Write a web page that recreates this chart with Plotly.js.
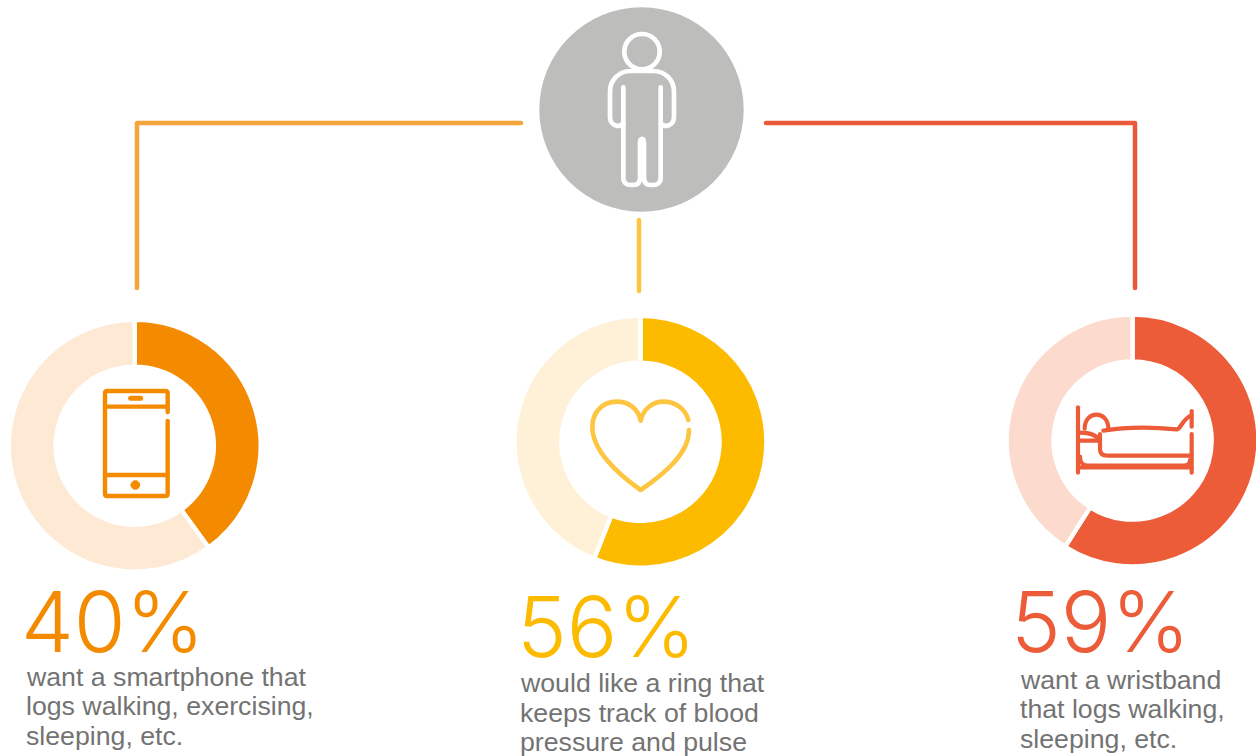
<!DOCTYPE html>
<html>
<head>
<meta charset="utf-8">
<script src="https://cdn.plot.ly/plotly-3.0.1.min.js"></script>
<style>
  html, body { margin: 0; padding: 0; background: #fff; overflow: hidden; }
  #stage { width: 1256px; height: 756px; overflow: hidden; }
  .shapelayer path { stroke-linecap: round; stroke-linejoin: round; }
</style>
</head>
<body>
<div id="stage"><div id="chart"></div></div>
<script>
// Survey shares for three wearable devices
const devices = ['Smartphone', 'Ring', 'Wristband'];
const shares = [40, 56, 59];
const captions = [
  ['want a smartphone that', 'logs walking, exercising,', 'sleeping, etc.'],
  ['would like a ring that', 'keeps track of blood', 'pressure and pulse'],
  ['want a wristband', 'that logs walking,', 'sleeping, etc.']
];
const strongColors = ['#F48A00', '#FDBB00', '#EC5C38'];
const paleColors = ['#FDE9D4', '#FFF1D8', '#FCDACD'];
const connectorColors = ['#F5A33B', '#FDC540', '#E9593A'];

// Canvas a little wider than the window so the right ring's white outline falls off the edge
const W = 1262, H = 756;
const px = x => x / W;
const py = y => 1 - y / H;

// Ring geometry, in page pixels
const ringCentres = [[134.7, 445.7], [640.5, 441.8], [1132.6, 440.5]];
const visibleOuter = 123.7, visibleInner = 81.3, gapWidth = 4.3;
const drawnOuter = visibleOuter + gapWidth / 2;
const holeRatio = (visibleInner - gapWidth / 2) / drawnOuter;

const traces = devices.map((name, i) => {
  const [cx, cy] = ringCentres[i];
  return {
    type: 'pie',
    name: name,
    labels: ['Yes', 'Other'],
    values: [shares[i], 100 - shares[i]],
    sort: false,
    direction: 'clockwise',
    rotation: 0,
    hole: holeRatio,
    textinfo: 'none',
    hoverinfo: 'skip',
    showlegend: false,
    marker: { colors: [strongColors[i], paleColors[i]], line: { color: '#ffffff', width: gapWidth } },
    domain: {
      x: [px(cx - drawnOuter), px(cx + drawnOuter)],
      y: [py(cy + drawnOuter), py(cy - drawnOuter)]
    }
  };
});

// Icon outlines are authored on a 3x grid and placed by an origin on the page
function place(d, ox, oy) {
  let isX = true;
  return d.replace(/-?\d+(\.\d+)?/g, n => {
    const v = parseFloat(n);
    const out = isX ? px(ox + v / 3) : py(oy + v / 3);
    isX = !isX;
    return out.toFixed(6);
  });
}
const stroke = (d, color, width, fill) => ({
  type: 'path', xref: 'paper', yref: 'paper', path: d, layer: 'above',
  line: { color: color, width: width }, fillcolor: fill || 'rgba(0,0,0,0)'
});
const circlePath = (cx, cy, r) => {
  const k = 0.5523 * r;
  return `M ${cx - r},${cy} C ${cx - r},${cy - k} ${cx - k},${cy - r} ${cx},${cy - r} ` +
         `C ${cx + k},${cy - r} ${cx + r},${cy - k} ${cx + r},${cy} ` +
         `C ${cx + r},${cy + k} ${cx + k},${cy + r} ${cx},${cy + r} ` +
         `C ${cx - k},${cy + r} ${cx - r},${cy + k} ${cx - r},${cy} Z`;
};

const person = [
  circlePath(366, 155, 53),
  'M 310,262 L 310,533 C 310,548 320,555 332,555 L 340,555 C 352,555 360,548 360,533 L 360,430 C 360,412 372,412 372,430 L 372,533 ' +
  'C 372,548 380,555 392,555 L 400,555 C 412,555 422,548 422,533 L 422,262',
  'M 422,372 L 435,378 C 450,378 462,368 462,350 L 462,275 C 462,240 435,213 400,213 L 332,213 C 297,213 270,240 270,275 ' +
  'L 270,350 C 270,368 282,378 297,378 L 310,372'
];
const phone = [
  'M 503,306 L 503,250 C 503,245 501,243 496,243 L 322,243 C 317,243 315,245 315,250 L 315,551 C 315,556 317,558 322,558 ' +
  'L 496,558 C 501,558 503,556 503,551 L 503,333',
  'M 315,290 L 503,290',
  'M 315,495 L 503,495'
];
const heart = 'M 535,330 C 525,295 495,275 460,275 C 430,275 400,295 392,332 C 385,295 355,275 320,275 ' +
              'C 275,275 247,310 247,350 C 247,420 320,490 392,540 C 465,490 537,430 537,360';
const bed = [
  'M 234,292 L 234,488',
  'M 575,303 L 575,350',
  'M 575,372 L 575,488',
  'M 234,472 L 575,472',
  'M 240,392 L 300,392',
  'M 240,368 C 265,368 290,375 298,392',
  'M 240,440 C 240,458 250,467 264,467 L 552,467 C 565,467 570,461 570,450',
  'M 300,372 L 300,418 C 300,430 308,437 322,437 L 575,437',
  'M 310,362 C 380,350 450,350 530,358 C 542,358 545,332 570,318',
  'M 254,356 C 254,300 325,300 325,356'
];

const shapes = [
  { type: 'circle', xref: 'paper', yref: 'paper', layer: 'above',
    x0: px(539.3), x1: px(743.7), y0: py(211.7), y1: py(7.3),
    fillcolor: '#BDBDBC', line: { width: 0 } },
  stroke(`M ${px(521)},${py(123)} L ${px(137)},${py(123)} L ${px(137)},${py(288)}`, connectorColors[0], 4.5),
  stroke(`M ${px(639)},${py(220)} L ${px(639)},${py(291)}`, connectorColors[1], 4.5),
  stroke(`M ${px(766)},${py(123)} L ${px(1135)},${py(123)} L ${px(1135)},${py(288)}`, connectorColors[2], 4.5),
  ...person.map(d => stroke(place(d, 520, 0), '#ffffff', 4.7)),
  ...phone.map(d => stroke(place(d, 0, 310), strongColors[0], 4.4)),
  stroke(place('M 392,265 L 422,265', 0, 310), strongColors[0], 5),
  stroke(place(circlePath(406, 525, 13), 0, 310), strongColors[0], 1, strongColors[0]),
  stroke(place(heart, 510, 310), connectorColors[1], 4.6),
  ...bed.map(d => stroke(place(d, 1000, 310), strongColors[2], 4.2))
];

// Big percentages and the captions underneath
const bigTextPos = [[20, 621], [516, 626], [1010, 621]];
const captionX = [25, 519, 1019];
const captionY = [[677, 706, 736], [683, 713, 742], [680, 709, 739]];

const annotations = [];
devices.forEach((_, i) => {
  annotations.push({
    xref: 'paper', yref: 'paper', x: px(bigTextPos[i][0]), y: py(bigTextPos[i][1]),
    xanchor: 'left', yanchor: 'middle', showarrow: false, borderpad: 0,
    text: shares[i] + '%',
    font: { family: 'Inter', size: 84, weight: 300, color: strongColors[i] }
  });
  captions[i].forEach((line, j) => annotations.push({
    xref: 'paper', yref: 'paper', x: px(captionX[i]), y: py(captionY[i][j]),
    xanchor: 'left', yanchor: 'middle', showarrow: false, borderpad: 0,
    text: line,
    font: { family: 'Liberation Sans', size: 26.7, color: '#737373' }
  }));
});

Plotly.newPlot('chart', traces, {
  width: W, height: H,
  margin: { l: 0, r: 0, t: 0, b: 0 },
  paper_bgcolor: '#ffffff',
  showlegend: false,
  shapes: shapes,
  annotations: annotations
}, { displayModeBar: false, staticPlot: true });
</script>
</body>
</html>
